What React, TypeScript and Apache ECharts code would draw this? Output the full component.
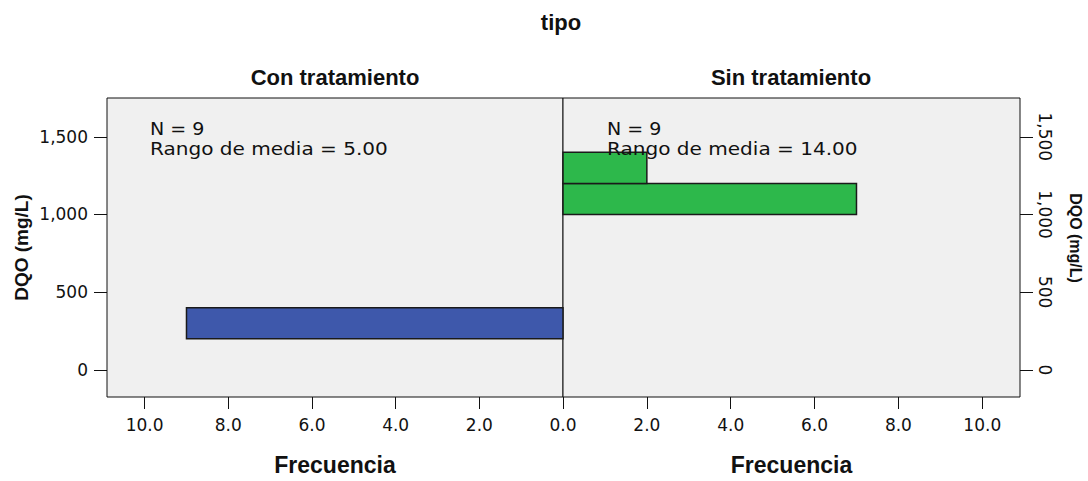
import React, { useEffect, useRef } from "react";
import * as echarts from "echarts";

// Histogram bins (DQO mg/L) and frequencies
const conBinLow = [200];
const conBinHigh = [400];
const conCounts = [9];
const sinBinLow = [1000, 1200];
const sinBinHigh = [1200, 1400];
const sinCounts = [7, 2];

const yTicks = [0, 500, 1000, 1500];
const xTicks = [0, 2, 4, 6, 8, 10];
const xTicksRightLabels = [2, 4, 6, 8, 10];

const panelTitles = ["Con tratamiento", "Sin tratamiento"];
const statsN = ["N = 9", "N = 9"];
const statsRango = ["Rango de media = 5.00", "Rango de media = 14.00"];
const yName = "DQO (mg/L)";

const LABEL_FONT = "DejaVu Sans";
const BOLD_FONT = "Liberation Sans, Arial, sans-serif";

export default function App() {
  const ref = useRef<HTMLDivElement>(null);
  useEffect(() => {
    if (!ref.current) return;
    const chart = echarts.init(ref.current, undefined, { renderer: "svg" });

    const makeData = (lows: number[], highs: number[], counts: number[]) =>
      lows.map((l, i) => [l, highs[i], counts[i]]);

    const renderBar = (fill: string) => (params: any, api: any) => {
      const low = api.value(0);
      const high = api.value(1);
      const count = api.value(2);
      const p1 = api.coord([0, high]);
      const p2 = api.coord([count, low]);
      const x = Math.min(p1[0], p2[0]);
      const w = Math.abs(p2[0] - p1[0]);
      return {
        type: "rect",
        shape: { x, y: p1[1], width: w, height: p2[1] - p1[1] },
        style: { fill, stroke: "#1a1a1a", lineWidth: 1.5 },
      };
    };

    const gridCommon = {
      top: 98,
      height: 299,
      show: true,
      backgroundColor: "#f0f0f0",
      borderColor: "#111",
      borderWidth: 1,
      outerBoundsMode: "none",
      containLabel: false,
    };

    const axisLabelStyle = {
      fontFamily: LABEL_FONT,
      fontSize: 17,
      color: "#111",
    };

    const fmtX = (v: number) => v.toFixed(1);
    const fmtY = (v: number) => v.toLocaleString("en-US");

    const xCommon = (gridIndex: number, inverse: boolean, labels: number[]) => ({
      type: "value",
      gridIndex,
      min: 0,
      max: 10.9,
      inverse,
      position: "bottom",
      axisLine: { show: false, onZero: false },
      axisTick: { show: true, length: 12, customValues: xTicks, lineStyle: { color: "#111" } },
      axisLabel: { ...axisLabelStyle, margin: 19, formatter: fmtX, customValues: labels },
      splitLine: { show: false },
      name: "Frecuencia",
      nameLocation: "middle",
      nameGap: 56,
      nameTextStyle: { fontFamily: BOLD_FONT, fontWeight: "bold", fontSize: 23, color: "#111" },
    });

    const option: any = {
      animation: false,
      backgroundColor: "#ffffff",
      grid: [
        { ...gridCommon, left: 107, width: 456 },
        { ...gridCommon, left: 563, width: 457 },
      ],
      xAxis: [xCommon(0, true, xTicks), xCommon(1, false, xTicksRightLabels)],
      yAxis: [
        {
          type: "value",
          gridIndex: 0,
          position: "left",
          min: -175,
          max: 1750,
          axisLine: { show: false, onZero: false },
          axisTick: { show: true, length: 13, customValues: yTicks, lineStyle: { color: "#111" } },
          axisLabel: { ...axisLabelStyle, margin: 19, formatter: fmtY, customValues: yTicks },
          splitLine: { show: false },
          name: yName,
          nameLocation: "middle",
          nameGap: 76,
          nameTextStyle: { fontFamily: BOLD_FONT, fontWeight: "bold", fontSize: 19, color: "#111" },
        },
        {
          type: "value",
          gridIndex: 1,
          position: "right",
          min: -175,
          max: 1750,
          axisLine: { show: false, onZero: false },
          axisTick: { show: true, length: 13, customValues: yTicks, lineStyle: { color: "#111" } },
          axisLabel: { ...axisLabelStyle, margin: 16, rotate: -90, formatter: fmtY, customValues: yTicks },
          splitLine: { show: false },
        },
      ],
      series: [
        {
          type: "custom",
          xAxisIndex: 0,
          yAxisIndex: 0,
          renderItem: renderBar("#3e58ab"),
          encode: { x: 2, y: [0, 1] },
          data: makeData(conBinLow, conBinHigh, conCounts),
        },
        {
          type: "custom",
          xAxisIndex: 1,
          yAxisIndex: 1,
          renderItem: renderBar("#2db84b"),
          encode: { x: 2, y: [0, 1] },
          data: makeData(sinBinLow, sinBinHigh, sinCounts),
        },
      ],
      graphic: [
        {
          type: "text",
          x: 561,
          y: 22,
          style: { text: "tipo", font: `bold 22px ${BOLD_FONT}`, fill: "#111", textAlign: "center", textVerticalAlign: "middle" },
        },
        {
          type: "text",
          x: 335,
          y: 77,
          style: { text: panelTitles[0], font: `bold 22px ${BOLD_FONT}`, fill: "#111", textAlign: "center", textVerticalAlign: "middle" },
        },
        {
          type: "text",
          x: 791,
          y: 77,
          style: { text: panelTitles[1], font: `bold 22px ${BOLD_FONT}`, fill: "#111", textAlign: "center", textVerticalAlign: "middle" },
        },
        {
          type: "text",
          x: 1075,
          y: 238,
          rotation: -Math.PI / 2,
          style: { text: yName, font: `bold 16px ${BOLD_FONT}`, fill: "#111", textAlign: "center", textVerticalAlign: "middle" },
        },
        ...[150, 607].flatMap((x, i) => [
          {
            type: "text",
            x,
            y: 129,
            scaleX: 1.12,
            style: { text: statsN[i], font: `17px ${LABEL_FONT}`, fill: "#111", textAlign: "left", textVerticalAlign: "middle" },
            z: 10,
          },
          {
            type: "text",
            x,
            y: 149,
            scaleX: 1.18,
            style: { text: statsRango[i], font: `17px ${LABEL_FONT}`, fill: "#111", textAlign: "left", textVerticalAlign: "middle" },
            z: 10,
          },
        ]),
      ],
    };

    chart.setOption(option);
    return () => chart.dispose();
  }, []);

  return (
    <div
      ref={ref}
      style={{ position: "absolute", left: 0, top: 0, width: 1088, height: 481 }}
    />
  );
}
